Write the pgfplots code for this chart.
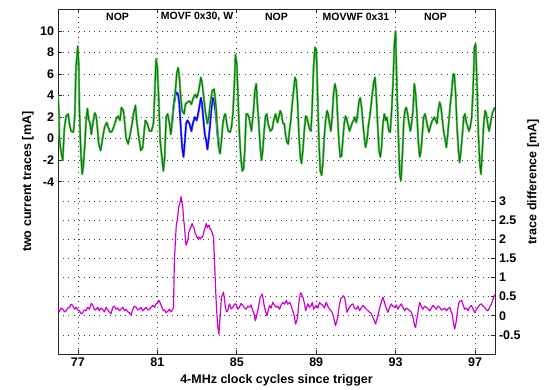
\documentclass[border=0pt]{standalone}
\usepackage{fontspec}
\setmainfont{Liberation Sans}
\usepackage{pgfplots}
\pgfplotsset{compat=1.18}
\usepackage{pgfplotstable}

\definecolor{mgreen}{rgb}{0,0.5,0}
\definecolor{lgreen}{rgb}{0.42,0.74,0.42}
\definecolor{mblue}{rgb}{0,0,1}
\definecolor{lblue}{rgb}{0.45,0.45,1}
\definecolor{mmag}{rgb}{0.8,0,0.8}

\pgfplotstableread{
x y
76.0 4.0
76.05 2.4
76.07 0.1
76.14 -1.1
76.24 -2.0
76.32 0.9
76.41 2.1
76.51 2.3
76.58 1.4
76.66 0.7
76.78 0.6
76.85 2.1
76.91 6.6
77.0 8.6
77.05 6.9
77.08 3.1
77.15 -1.1
77.22 -3.3
77.28 -2.6
77.35 -0.8
77.42 1.7
77.49 2.8
77.55 1.8
77.62 1.4
77.69 0.4
77.76 1.4
77.86 2.4
77.93 2.1
78.0 0.9
78.06 -0.5
78.16 -1.1
78.26 0.1
78.36 1.1
78.47 1.5
78.53 1.1
78.63 0.6
78.74 0.7
78.84 1.2
78.94 1.8
79.04 2.1
79.14 1.7
79.21 2.9
79.31 2.6
79.38 1.4
79.44 0.1
79.55 -0.5
79.65 0.4
79.75 1.4
79.82 2.3
79.92 3.1
79.98 1.7
80.09 0.1
80.19 -1.1
80.29 -0.8
80.36 0.7
80.42 1.7
80.52 1.4
80.63 0.7
80.73 0.7
80.83 1.4
80.9 4.5
80.96 7.4
81.03 6.6
81.1 3.5
81.17 -0.2
81.27 -2.0
81.33 -3.0
81.4 -1.7
81.47 2.0
81.55 2.3
81.64 1.4
81.71 0.4
81.77 1.4
81.84 2.9
81.94 4.45
82.01 6.1
82.08 6.6
82.14 5.7
82.21 3.8
82.28 2.6
82.38 2.3
82.45 3.2
82.55 3.4
82.65 3.5
82.75 3.2
82.85 3.8
82.95 4.1
83.02 3.8
83.12 4.45
83.23 5.7
83.29 5.2
83.36 4.1
83.43 2.9
83.5 2.0
83.56 1.4
83.63 2.0
83.7 3.2
83.8 4.45
83.9 4.6
84.0 2.9
84.07 0.7
84.14 -0.8
84.2 -1.4
84.27 -0.2
84.34 1.4
84.41 2.1
84.47 2.3
84.54 1.4
84.61 0.7
84.71 0.6
84.78 1.1
84.85 2.4
84.91 4.45
84.98 7.8
85.05 6.9
85.12 3.2
85.18 0.4
85.25 -1.7
85.32 -3.0
85.39 -2.8
85.45 -1.1
85.52 2.3
85.59 2.3
85.66 2.0
85.72 1.4
85.79 0.7
85.89 2.6
85.96 4.45
86.03 5.1
86.09 3.2
86.16 1.4
86.23 -0.8
86.3 -2.0
86.36 -1.1
86.43 0.7
86.5 2.1
86.57 2.3
86.63 1.4
86.74 0.7
86.84 0.9
86.91 1.7
87.01 2.3
87.06 1.8
87.11 1.5
87.17 2.0
87.24 2.6
87.31 2.3
87.38 1.4
87.45 1.4
87.51 0.4
87.58 -0.3
87.65 -0.5
87.71 0.7
87.78 1.7
87.85 3.2
87.92 4.45
87.99 5.7
88.05 5.4
88.12 3.5
88.19 0.4
88.26 -1.7
88.32 -2.3
88.39 -1.1
88.46 0.7
88.53 2.1
88.59 2.0
88.66 1.4
88.73 0.9
88.8 0.7
88.86 2.9
88.93 6.6
89.0 8.5
89.07 8.2
89.13 4.45
89.2 -0.2
89.27 -3.0
89.34 -3.4
89.4 -2.3
89.47 0.1
89.54 1.7
89.61 2.6
89.67 2.3
89.74 1.4
89.81 0.7
89.88 2.3
89.94 4.1
90.01 5.1
90.08 4.45
90.15 2.0
90.21 -0.2
90.28 -1.7
90.35 -1.6
90.42 0.1
90.48 1.4
90.55 2.1
90.62 1.7
90.69 1.2
90.75 0.7
90.82 1.1
90.89 1.5
90.96 1.7
91.02 2.0
91.09 1.5
91.16 2.3
91.23 3.5
91.29 3.8
91.36 2.9
91.43 1.4
91.5 0.1
91.56 -0.8
91.63 -0.2
91.7 1.1
91.77 2.0
91.83 2.9
91.9 4.1
91.97 5.2
92.04 5.7
92.1 4.1
92.17 1.4
92.24 -1.1
92.31 -1.7
92.37 -0.8
92.44 1.4
92.51 2.3
92.58 1.7
92.64 2.0
92.68 1.4
92.74 0.7
92.81 0.6
92.88 2.6
92.95 5.1
93.02 8.8
93.08 10.0
93.15 4.6
93.22 0.4
93.29 -3.3
93.35 -3.9
93.42 -1.7
93.49 1.4
93.55 2.6
93.62 2.9
93.69 2.3
93.76 1.4
93.83 0.7
93.89 1.4
93.96 2.6
94.03 5.1
94.1 4.1
94.16 2.3
94.23 -0.2
94.3 -1.7
94.37 -1.1
94.43 0.4
94.5 2.0
94.57 2.3
94.64 1.7
94.7 1.1
94.77 0.6
94.84 1.1
94.9 1.5
94.97 1.8
95.04 2.0
95.11 1.7
95.18 1.4
95.24 2.6
95.31 3.4
95.38 2.9
95.45 1.7
95.51 0.7
95.58 0.0
95.65 -0.8
95.72 0.4
95.78 1.7
95.85 3.2
95.92 4.45
95.99 6.0
96.05 6.0
96.12 4.1
96.19 1.1
96.26 -1.1
96.32 -2.2
96.39 -1.1
96.46 0.4
96.53 2.0
96.59 2.3
96.66 1.5
96.73 1.1
96.79 0.7
96.86 1.1
96.93 2.0
97.0 4.45
97.07 8.5
97.13 8.8
97.2 5.1
97.27 0.4
97.34 -2.3
97.4 -3.3
97.47 -1.1
97.54 1.4
97.61 2.6
97.67 2.3
97.74 1.4
97.81 0.7
97.88 1.4
97.98 2.4
98.1 2.9
}\greentab

\pgfplotstableread{
x y
81.77 1.4
81.84 2.9
81.94 4.0
82.01 4.3
82.08 4.1
82.14 3.2
82.21 1.1
82.28 -0.8
82.35 -1.7
82.42 -0.2
82.48 1.4
82.55 1.7
82.65 1.4
82.75 0.7
82.82 1.4
82.92 2.0
83.02 1.7
83.12 2.6
83.23 3.8
83.29 3.2
83.36 1.7
83.43 0.4
83.5 -0.2
83.56 -1.0
83.63 0.1
83.7 1.4
83.77 2.9
83.83 3.8
83.9 3.5
84.0 2.0
84.07 0.4
84.14 -0.8
84.2 -1.4
}\bluetab

\pgfplotstableread{
x y
76.0 0.17
76.07 0.10
76.15 0.20
76.24 0.17
76.33 0.10
76.41 0.13
76.5 0.20
76.58 0.22
76.66 0.30
76.74 0.27
76.83 0.17
76.91 0.22
77.0 0.15
77.08 0.13
77.17 0.05
77.25 0.08
77.33 0.15
77.42 0.13
77.5 0.22
77.59 0.17
77.68 0.32
77.76 0.27
77.85 0.15
77.93 0.17
78.01 0.22
78.09 0.13
78.18 0.20
78.26 0.17
78.35 0.10
78.43 0.22
78.52 0.15
78.6 0.10
78.68 0.05
78.77 0.22
78.85 0.25
78.94 0.17
79.02 0.20
79.11 0.13
79.2 0.18
79.28 0.22
79.36 0.13
79.44 0.17
79.53 0.10
79.61 0.08
79.7 0.02
79.78 0.17
79.87 0.25
79.95 0.22
80.03 0.15
80.12 0.17
80.2 0.22
80.29 0.13
80.38 0.18
80.46 0.22
80.55 0.15
80.63 0.17
80.72 0.22
80.8 0.27
80.88 0.22
80.96 0.31
81.03 0.33
81.1 0.40
81.16 0.35
81.22 0.27
81.28 0.20
81.34 0.13
81.4 0.15
81.47 0.08
81.56 0.12
81.64 0.17
81.7 0.10
81.77 0.13
81.84 0.20
81.89 1.45
81.98 2.33
82.05 2.55
82.11 2.85
82.17 2.95
82.23 3.11
82.27 2.95
82.31 2.85
82.35 2.55
82.4 2.33
82.44 2.05
82.48 1.84
82.52 1.90
82.57 1.97
82.61 2.15
82.65 2.24
82.72 2.30
82.79 2.41
82.84 2.33
82.89 2.28
82.94 2.15
82.99 2.11
83.05 2.02
83.12 2.06
83.19 2.00
83.26 2.06
83.31 2.05
83.36 2.15
83.43 2.28
83.5 2.41
83.56 2.30
83.63 2.37
83.69 2.28
83.75 2.24
83.81 2.15
83.87 2.06
83.93 1.27
84.0 0.40
84.07 -0.22
84.14 -0.48
84.2 -0.04
84.27 0.48
84.33 0.55
84.37 0.62
84.42 0.45
84.47 0.22
84.53 0.10
84.59 0.13
84.64 0.25
84.68 0.31
84.76 0.18
84.85 0.22
84.93 0.30
85.01 0.31
85.09 0.17
85.18 0.22
85.26 0.32
85.35 0.27
85.43 0.20
85.52 0.17
85.6 0.25
85.69 0.22
85.77 0.28
85.86 0.13
85.92 0.05
85.99 -0.13
86.05 0.00
86.11 0.13
86.17 0.30
86.23 0.48
86.28 0.52
86.33 0.57
86.39 0.40
86.45 0.22
86.51 0.10
86.57 0.00
86.63 0.12
86.7 0.27
86.78 0.20
86.87 0.35
86.95 0.28
87.04 0.22
87.12 0.25
87.21 0.17
87.29 0.28
87.38 0.35
87.46 0.30
87.55 0.40
87.63 0.30
87.72 0.35
87.8 0.25
87.88 0.13
87.95 0.00
88.02 -0.22
88.07 -0.15
88.12 -0.04
88.17 0.25
88.22 0.48
88.27 0.60
88.32 0.57
88.37 0.50
88.42 0.44
88.48 0.28
88.53 0.13
88.58 0.22
88.64 0.31
88.72 0.22
88.81 0.27
88.87 0.35
88.93 0.17
89.0 0.22
89.07 0.27
89.15 0.20
89.23 0.35
89.31 0.30
89.4 0.27
89.48 0.20
89.57 0.35
89.65 0.25
89.74 0.17
89.82 0.13
89.91 0.04
89.97 -0.10
90.04 -0.26
90.1 -0.15
90.15 -0.04
90.2 0.15
90.25 0.31
90.31 0.45
90.38 0.48
90.44 0.52
90.5 0.48
90.56 0.30
90.62 0.09
90.68 0.15
90.75 0.22
90.83 0.28
90.92 0.31
91.0 0.20
91.09 0.17
91.17 0.25
91.26 0.13
91.34 0.20
91.43 0.27
91.51 0.22
91.6 0.17
91.68 0.13
91.77 0.09
91.85 0.05
91.93 -0.04
92.0 -0.12
92.07 -0.22
92.13 -0.10
92.19 0.00
92.25 0.15
92.31 0.27
92.38 0.40
92.44 0.48
92.49 0.40
92.54 0.31
92.61 0.20
92.69 0.09
92.77 0.20
92.86 0.31
92.94 0.25
93.03 0.22
93.11 0.28
93.2 0.17
93.28 0.25
93.37 0.31
93.45 0.22
93.54 0.13
93.62 0.20
93.71 0.17
93.8 0.13
93.88 0.09
93.94 0.00
93.99 -0.13
94.04 -0.25
94.09 -0.31
94.15 -0.10
94.2 0.04
94.25 0.20
94.3 0.35
94.38 0.25
94.47 0.17
94.55 0.25
94.63 0.22
94.72 0.18
94.8 0.13
94.89 0.20
94.97 0.27
95.05 0.22
95.14 0.17
95.22 0.25
95.31 0.22
95.39 0.15
95.48 0.17
95.56 0.20
95.65 0.13
95.73 0.18
95.82 0.22
95.88 0.12
95.95 0.04
96.01 -0.20
96.07 -0.35
96.11 -0.25
96.15 -0.13
96.22 0.15
96.29 0.35
96.35 0.38
96.42 0.40
96.5 0.28
96.58 0.17
96.66 0.20
96.75 0.13
96.83 0.22
96.91 0.27
97.0 0.18
97.08 0.09
97.16 0.15
97.25 0.22
97.33 0.28
97.42 0.31
97.5 0.25
97.59 0.22
97.67 0.15
97.76 0.13
97.84 0.22
97.93 0.31
98.02 0.45
98.1 0.55
}\diffab

\pgfplotsset{
  mgrid/.style={line width=0.6pt, black!75, dash pattern=on 0.7pt off 4.5pt},
  xfix/.style={x filter/.expression={76+(x-76)*0.995}},
}

\begin{document}
\begin{tikzpicture}[font=\fontsize{12.5bp}{14bp}\selectfont\bfseries]
\begin{axis}[
  at={(0,0)}, anchor=south west,
  scale only axis, width=437bp, height=344.5bp,
  xmin=76, xmax=98, ymin=-20, ymax=12,
  xtick={77,81,85,89,93,97},
  xticklabels={77,81,85,89,93,97},
  ytick={-4,-2,0,2,4,6,8,10},
  yticklabels={-4,-2,0,2,4,6,8,10},
  tick align=inside,
  xtick pos=both, ytick pos=left,
  major tick length=4bp,
  tick style={line width=0.6pt, black!85},
  axis line style={line width=0.9pt, black!85},
  grid=major,
  grid style={mgrid},
  xlabel={4-MHz clock cycles since trigger},
  xlabel style={at={(axis description cs:0.5,-0.0755)}, anchor=center},
  ylabel={two current traces [mA]},
  ylabel style={at={(axis description cs:-0.0687,0.5)}, anchor=center},
  xticklabel style={yshift=-0.5bp},
  yticklabel style={xshift=-0.5bp},
  clip=true,
]
\addplot[lblue, line width=2.2pt, line join=round, xfix] table[x=x,y=y] {\bluetab};
\addplot[mblue, line width=1.2pt, line join=round, xfix] table[x=x,y=y] {\bluetab};
\addplot[lgreen, line width=2.2pt, line join=round, xfix] table[x=x,y=y] {\greentab};
\addplot[mgreen, line width=1.0pt, line join=round, xfix] table[x=x,y=y] {\greentab};
\node[font=\fontsize{10.5bp}{12bp}\selectfont\bfseries] at (axis cs:79,11.3) {NOP};
\node[font=\fontsize{10.5bp}{12bp}\selectfont\bfseries] at (axis cs:83,11.3) {MOVF 0x30, W};
\node[font=\fontsize{10.5bp}{12bp}\selectfont\bfseries] at (axis cs:87,11.3) {NOP};
\node[font=\fontsize{10.5bp}{12bp}\selectfont\bfseries] at (axis cs:91,11.3) {MOVWF 0x31};
\node[font=\fontsize{10.5bp}{12bp}\selectfont\bfseries] at (axis cs:95,11.3) {NOP};
\end{axis}
\begin{axis}[
  at={(0,0)}, anchor=south west,
  scale only axis, width=437bp, height=344.5bp,
  xmin=76, xmax=98, ymin=-1, ymax=8,
  axis y line*=right, axis x line=none,
  ytick={-0.5,0,0.5,1,1.5,2,2.5,3},
  yticklabels={-0.5,0,0.5,1,1.5,2,2.5,3},
  tick align=inside,
  major tick length=4bp,
  tick style={line width=0.6pt, black!85},
  axis line style={line width=0.9pt, black!85},
  ymajorgrids, grid style={mgrid},
  ylabel={trace difference [mA]},
  ylabel style={at={(axis description cs:1.087,0.5)}, anchor=center},
  yticklabel style={xshift=0.5bp},
]
\addplot[mmag, line width=1.2pt, line join=round, xfix] table[x=x,y=y] {\diffab};
\end{axis}
\path (-58bp,-34bp) rectangle (493bp,354bp);
\end{tikzpicture}
\end{document}
